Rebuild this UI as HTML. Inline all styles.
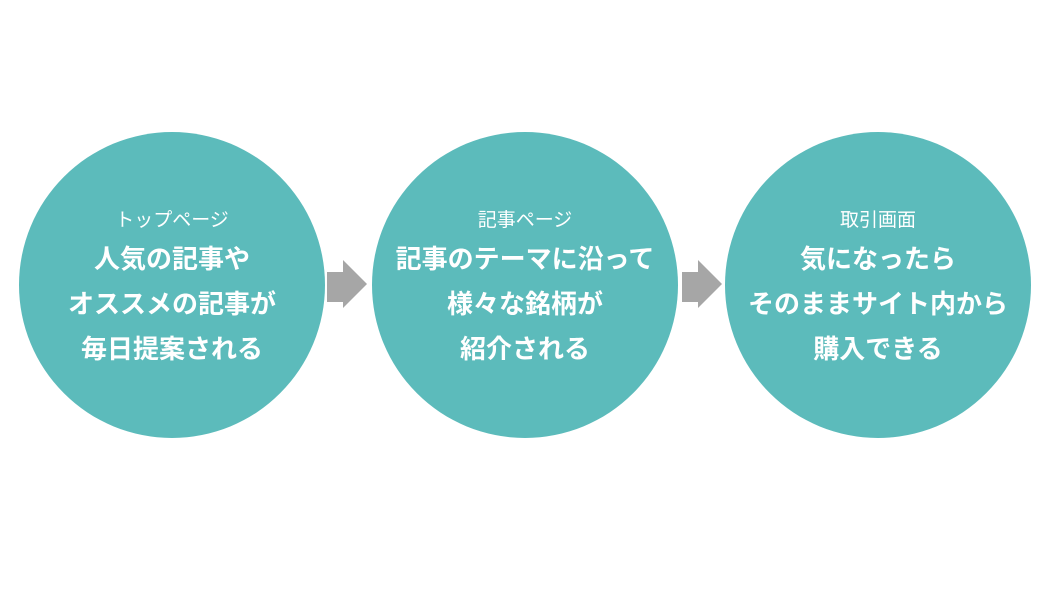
<!DOCTYPE html>
<html><head><meta charset="utf-8"><style>
body{margin:0;width:1050px;height:591px;background:#fff;position:relative;overflow:hidden;font-family:"Liberation Sans","Noto Sans CJK JP",sans-serif;}
.c{position:absolute;top:132px;width:306px;height:306px;border-radius:50%;background:#5cbbbb;color:#fff;text-align:center;}
.s{position:absolute;top:77px;left:0;right:0;font-size:19px;line-height:24px;}
.m{position:absolute;top:105px;left:-30px;right:-30px;font-size:26px;font-weight:bold;line-height:45px;}
</style></head><body>
<div class="c" style="left:19px"><div class="s">トップページ</div><div class="m">人気の記事や<br>オススメの記事が<br>毎日提案される</div></div>
<div class="c" style="left:372px"><div class="s">記事ページ</div><div class="m">記事のテーマに沿って<br>様々な銘柄が<br>紹介される</div></div>
<div class="c" style="left:725px"><div class="s">取引画面</div><div class="m">気になったら<br>そのままサイト内から<br>購入できる</div></div>
<svg style="position:absolute;left:0;top:0" width="1050" height="591">
<polygon points="327,272 343,272 343,260 367,284 343,308 343,302 327,302" fill="#a6a6a6"/>
<polygon points="682,272 698,272 698,260 722,284 698,308 698,302 682,302" fill="#a6a6a6"/>
</svg>
</body></html>
